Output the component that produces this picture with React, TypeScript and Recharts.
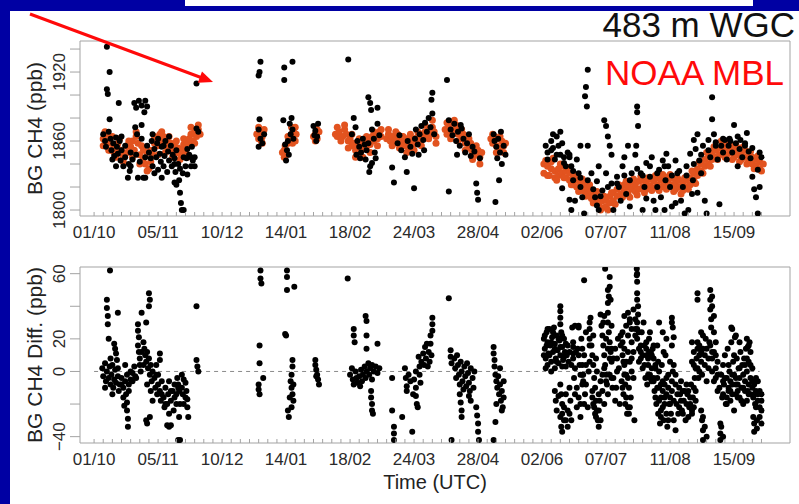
import React from 'react';
import { ScatterChart, Scatter, XAxis, YAxis, ReferenceArea, ReferenceLine } from 'recharts';

// [day since 01/10/2011, value]
type Row = [number, number];

const FONT = '"Liberation Sans", Arial, Helvetica, sans-serif';
const BLUE = '#0000a3';
const ORANGE = '#e2531f';
const RED = '#ff0a0a';
const GREY = '#a3a3a3';

// x axis: minor ticks every 5 days, labelled every 35 days
const TICK_DAYS = Array.from({ length: 74 }, (_, i) => i * 5);
const LABEL_DAYS = [0, 35, 70, 105, 140, 175, 210, 245, 280, 315, 350];
const DATE_LABELS = ['01/10', '05/11', '10/12', '14/01', '18/02', '24/03', '28/04', '02/06', '07/07', '11/08', '15/09'];
const X_DOMAIN: [number, number] = [-7.7, 380.6];

const BG_TICKS = [1800, 1820, 1840, 1860, 1880, 1900, 1920, 1940];
const BG_LABELLED = [1800, 1860, 1920];
const BG_DOMAIN: [number, number] = [1794.8, 1947];

const DIFF_TICKS = [-40, -20, 0, 20, 40, 60];
const DIFF_LABELLED = [-40, 0, 20, 60];
const DIFF_DOMAIN: [number, number] = [-43.9, 64.1];

// background CH4 at the tower (ppb)
const bgAutumn: Row[] = [
  [7, 1942], [8.5, 1920], [7, 1905], [7.5, 1901], [8.5, 1879], [13.5, 1893],
  [5, 1866], [6, 1860], [6.5, 1855], [8, 1868], [9, 1862], [9.5, 1852], [10.5, 1858], [11, 1847], [12, 1863],
  [12.5, 1855], [13, 1849], [14, 1860], [14.5, 1843], [15, 1852], [16, 1838], [17, 1846], [18.5, 1828],
  [19, 1840], [20, 1850], [21, 1844], [19.5, 1834], [22, 1893], [23, 1889], [24.5, 1895], [26, 1891],
  [27.5, 1885], [28, 1895], [29, 1890], [22.5, 1872], [26, 1874], [23.5, 1866], [24, 1828], [27, 1828],
  [28, 1828], [29, 1856], [30, 1850], [31, 1845], [31.5, 1860], [32, 1838], [33, 1853], [34, 1846],
  [34.5, 1858], [35, 1835], [36, 1849], [36.5, 1842], [37, 1855], [38, 1838], [38.5, 1847], [39, 1860],
  [40, 1833], [40.5, 1851], [41, 1843], [42, 1856], [42.5, 1838], [43, 1848], [44, 1845], [44.5, 1833],
  [45, 1852], [46, 1840], [46.5, 1826], [44, 1824], [45, 1822], [47, 1815], [47.5, 1806], [48, 1800],
  [49, 1800], [48.5, 1832], [50, 1838], [50.5, 1845], [51, 1831], [52, 1848], [53, 1838], [54, 1843],
  [56, 1910], [56, 1871], [55, 1846], [53.5, 1855], [57, 1868],
  [10, 1844], [12, 1838], [15, 1864], [17, 1856], [20, 1838], [23, 1848], [25, 1842], [26, 1862], [28, 1846],
  [32, 1866], [35, 1862], [38, 1856], [41, 1864], [44, 1840], [47, 1836], [49, 1846], [51, 1853], [53, 1846],
  [55, 1838], [33, 1832], [37, 1828],
];
const bgWinter: Row[] = [
  [91, 1929], [90.5, 1920], [90, 1917], [90.5, 1879], [90, 1870], [93, 1866], [91, 1862], [90, 1855], [92, 1858],
  [104, 1924], [108.5, 1929], [104, 1913], [103.5, 1878], [108, 1880], [107, 1875], [105, 1843], [106, 1860],
  [107.5, 1866], [108.5, 1870], [105.5, 1852], [104.5, 1857], [109, 1862], [106.5, 1848],
  [120, 1873], [121, 1869], [122, 1864], [121.5, 1860], [122.5, 1875], [120.5, 1865],
  [139, 1931], [142, 1880], [143, 1872], [141, 1866], [144, 1860], [145, 1855], [146, 1850], [143.5, 1848],
  [145.5, 1845], [147, 1862], [148, 1857], [149, 1852], [148.5, 1844], [150, 1858], [150, 1898], [151, 1893],
  [151.5, 1887], [152, 1870], [153, 1862], [153.5, 1850], [154, 1845], [155, 1889], [155, 1875], [156, 1865],
  [152, 1841], [151, 1838], [150.5, 1833],
];
const bgSpring: Row[] = [
  [163, 1837], [164, 1824], [166, 1858], [167, 1865], [168, 1852], [171, 1833], [170, 1846], [171.5, 1860],
  [175, 1819], [173, 1855], [174, 1849], [175.5, 1862], [176, 1870], [177, 1857], [178, 1866], [179, 1873],
  [180, 1861], [181, 1876], [182, 1868], [183, 1880], [184, 1872], [185, 1884], [184.5, 1896], [185, 1902],
  [186, 1866], [180.5, 1852], [177.5, 1848],
  [193, 1913], [194, 1878], [194, 1816], [195, 1870], [196, 1865], [197, 1875], [198, 1860], [199, 1868],
  [200, 1856], [201, 1871], [202, 1862], [203, 1850], [204, 1858], [205, 1866], [206, 1847], [207, 1855],
  [208, 1851], [209, 1823], [210, 1809], [209.5, 1815], [211, 1845], [198.5, 1848], [200.5, 1874],
  [218.5, 1866], [219, 1860], [220, 1855], [220.5, 1845], [221, 1862], [222, 1850], [223, 1840], [222.5, 1868],
  [224, 1856], [221.5, 1826], [219.5, 1807], [225, 1848],
];
const bgSummer: Row[] = [
  [247, 1856], [248, 1850], [250, 1860], [251, 1854], [252, 1844], [253, 1864], [254, 1856], [255, 1848],
  [256, 1858], [257, 1841], [259, 1850], [260, 1846], [255, 1868], [251, 1866], [256, 1819], [258, 1838],
  [260, 1848], [261, 1838], [262, 1826], [264, 1844], [265, 1832], [266, 1820], [267, 1811], [260, 1809],
  [261, 1800], [268, 1797], [263, 1808], [266, 1856],
  [270, 1922], [269, 1907], [268.5, 1899], [269.5, 1890], [270, 1856], [272, 1832],
  [274, 1811], [275, 1804], [276, 1800], [278, 1817], [279, 1878], [280, 1873], [281, 1864], [282, 1856],
  [283, 1848], [280, 1832], [283, 1823], [276, 1838], [275, 1825],
  [284, 1800], [287, 1820], [289, 1838], [290, 1846], [292, 1856], [294, 1832], [291, 1814], [293, 1803],
  [288, 1808], [286, 1829], [297, 1890], [297, 1885], [297.5, 1873], [296.5, 1856], [296, 1848],
  [299, 1832], [301, 1820], [302, 1841], [304, 1829], [305, 1846], [306, 1808], [308, 1820], [309, 1835],
  [311, 1843], [312, 1800], [312.5, 1826], [307, 1800], [300, 1800], [310, 1811],
  [313, 1849], [314, 1838], [315, 1820], [316, 1803], [318, 1843], [319, 1832], [321, 1808], [322, 1820],
  [324, 1838], [325, 1800], [326, 1849], [327, 1814], [327.5, 1826], [323, 1797],
  [328, 1861], [329, 1853], [330, 1866], [331, 1843], [332, 1832], [333, 1856], [334, 1808], [335, 1797],
  [336, 1861], [337, 1846], [338, 1898], [338, 1879], [339, 1866], [340, 1859], [341, 1844], [342, 1805],
  [343, 1856], [344, 1850], [345, 1861], [346, 1844], [347, 1856], [347.5, 1862], [349, 1850], [350, 1874],
  [351, 1858], [352, 1838], [353, 1853], [353.5, 1861], [354.5, 1846], [356, 1856], [357, 1867], [358, 1851],
  [359, 1845], [360, 1829], [361, 1818], [362, 1811], [363, 1835], [364, 1820], [363, 1797], [365, 1846],
  [248, 1844], [250, 1852], [253, 1848], [257, 1846], [262, 1834], [266, 1828], [270, 1826], [273, 1818],
  [277, 1812], [281, 1820], [286, 1823], [290, 1830], [293, 1826], [297, 1836], [300, 1830], [304, 1838],
  [308, 1832], [312, 1838], [316, 1830], [320, 1834], [324, 1830], [328, 1840], [332, 1848], [336, 1852],
  [340, 1856], [344, 1862], [348, 1860], [352, 1864], [356, 1858], [360, 1854], [364, 1850], [302, 1810],
  [318, 1806], [330, 1815],
];

// NOAA marine boundary layer reference (ppb)
const mblAutumnWinter: Row[] = [
  [5, 1862], [5, 1856], [7, 1860], [7, 1866], [9, 1858], [9, 1852], [11, 1856], [11, 1850], [13, 1853],
  [13, 1858], [15, 1852], [16, 1847], [18, 1850], [18, 1856], [20, 1855], [21, 1860], [22, 1852], [23, 1864],
  [24, 1858], [25, 1848], [26, 1856], [27, 1845], [28, 1840], [29, 1850], [30, 1836], [31, 1842], [32, 1848],
  [33, 1858], [34, 1862], [35, 1856], [36, 1866], [37, 1860], [38, 1864], [39, 1856], [40, 1860], [41, 1853],
  [42, 1858], [43, 1852], [44, 1856], [45, 1850], [46, 1854], [47, 1849], [48, 1852], [49, 1857], [50, 1851],
  [51, 1858], [52, 1862], [53, 1866], [54, 1860], [55, 1868], [56, 1864], [57, 1870], [58, 1866],
  [6, 1868], [8, 1852], [10, 1864], [12, 1846], [14, 1862], [16, 1842], [19, 1860], [21, 1846], [23, 1868],
  [25, 1840], [27, 1852], [29, 1834], [31, 1852], [33, 1864], [35, 1848], [37, 1868], [39, 1850], [41, 1864],
  [43, 1846], [45, 1860], [47, 1844], [49, 1862], [51, 1846], [53, 1872], [55, 1858], [57, 1874],
  [89, 1866], [90, 1862], [91, 1868], [92, 1864], [93, 1870], [91.5, 1860], [90, 1872], [92, 1858],
  [103, 1850], [104, 1852], [104.5, 1856], [105, 1848], [106, 1858], [107, 1862], [108, 1866], [109, 1870],
  [110, 1872], [110.5, 1866], [108.5, 1858], [104, 1846], [106, 1864], [108, 1872], [110, 1860],
  [120, 1864], [121, 1866], [122, 1862], [123, 1868], [121, 1860], [122, 1870],
  [132, 1866], [133, 1864], [134, 1868], [136, 1864], [137, 1870], [138, 1866], [139, 1860], [140, 1862],
  [141, 1856], [142, 1858], [143, 1852], [144, 1856], [145, 1850], [146, 1858], [147, 1853], [148, 1860],
  [149, 1855], [150, 1862], [151, 1857], [152, 1864], [153, 1860], [154, 1866], [155, 1862], [156, 1868], [157, 1864],
  [133, 1872], [135, 1860], [137, 1874], [139, 1854], [141, 1866], [143, 1846], [145, 1862], [147, 1846],
  [149, 1864], [151, 1850], [153, 1868], [155, 1856], [157, 1870],
];
const mblSpringSummer: Row[] = [
  [160, 1862], [161, 1866], [162, 1860], [163, 1864], [164, 1858], [165, 1862], [166, 1866], [167, 1860],
  [168, 1864], [169, 1858], [170, 1856], [171, 1862], [172, 1854], [173, 1860], [174, 1856], [175, 1862],
  [176, 1858], [177, 1864], [178, 1860], [179, 1866], [180, 1862], [181, 1868], [182, 1864], [183, 1870],
  [184, 1866], [185, 1872], [186, 1868], [187, 1864],
  [161, 1870], [163, 1856], [165, 1868], [167, 1854], [169, 1864], [171, 1850], [173, 1866], [175, 1852],
  [177, 1868], [179, 1856], [181, 1874], [183, 1862], [185, 1878], [187, 1858],
  [192, 1870], [193, 1866], [194, 1874], [195, 1868], [196, 1876], [197, 1870], [198, 1874], [199, 1866],
  [200, 1870], [201, 1862], [202, 1866], [203, 1858], [204, 1862], [205, 1854], [206, 1858], [207, 1850],
  [208, 1855], [209, 1848], [210, 1852], [211, 1846], [212, 1850],
  [193, 1876], [195, 1862], [197, 1878], [199, 1860], [201, 1870], [203, 1852], [205, 1862], [207, 1844],
  [209, 1856], [211, 1840],
  [217, 1862], [218, 1858], [219, 1864], [220, 1856], [221, 1862], [222, 1854], [223, 1860], [224, 1856],
  [225, 1858], [220.5, 1850], [218, 1866], [220, 1850], [222, 1864], [224, 1850],
  [246, 1840], [246, 1832], [248, 1838], [248, 1830], [250, 1836], [250, 1842], [252, 1834], [252, 1828],
  [254, 1836], [254, 1830], [256, 1832], [256, 1838], [258, 1828], [258, 1834], [260, 1826], [260, 1832],
  [262, 1822], [262, 1828], [264, 1820], [264, 1826], [266, 1818], [266, 1824], [268, 1816], [268, 1822],
  [270, 1814], [270, 1819], [272, 1810], [272, 1816], [274, 1808], [274, 1814], [276, 1804], [276, 1810],
  [278, 1802], [278, 1808], [280, 1803], [280, 1809], [282, 1806], [282, 1812], [284, 1808], [284, 1815],
  [286, 1812], [286, 1818], [288, 1814], [288, 1820], [290, 1816], [290, 1822], [292, 1814], [292, 1820],
  [294, 1818], [294, 1824], [296, 1816], [296, 1822], [298, 1818], [298, 1825], [300, 1820], [300, 1826],
  [302, 1818], [302, 1824], [304, 1821], [304, 1827], [306, 1819], [306, 1825], [308, 1822], [308, 1828],
  [310, 1820], [310, 1826], [312, 1823], [312, 1829], [314, 1820], [314, 1826], [316, 1822], [316, 1828],
  [318, 1818], [318, 1824], [320, 1820], [320, 1826], [322, 1817], [322, 1823], [324, 1820], [324, 1826],
  [326, 1822], [326, 1828], [328, 1826], [328, 1832], [330, 1830], [330, 1836], [332, 1834], [332, 1840],
  [334, 1838], [334, 1844], [336, 1840], [336, 1846], [338, 1844], [338, 1850], [340, 1846], [340, 1852],
  [342, 1848], [342, 1854], [344, 1850], [344, 1856], [346, 1848], [346, 1854], [348, 1850], [348, 1856],
  [350, 1846], [350, 1852], [352, 1848], [352, 1854], [354, 1844], [354, 1850], [356, 1846], [356, 1852],
  [358, 1842], [358, 1848], [360, 1840], [360, 1846], [362, 1838], [362, 1844], [364, 1836], [364, 1842], [366, 1840],
  [247, 1843], [249, 1830], [251, 1845], [253, 1826], [255, 1840], [257, 1828], [259, 1837], [261, 1822],
  [263, 1830], [265, 1816], [267, 1827], [269, 1812], [271, 1822], [273, 1806], [275, 1816], [277, 1800],
  [279, 1812], [281, 1800], [283, 1815], [285, 1805], [287, 1822], [289, 1811], [291, 1825], [293, 1811],
  [295, 1827], [297, 1813], [299, 1829], [301, 1815], [303, 1828], [305, 1817], [307, 1830], [309, 1817],
  [311, 1831], [313, 1818], [315, 1831], [317, 1816], [319, 1828], [321, 1814], [323, 1828], [325, 1818],
  [327, 1834], [329, 1823], [331, 1842], [333, 1832], [335, 1850], [337, 1838], [339, 1855], [341, 1844],
  [343, 1860], [345, 1846], [347, 1859], [349, 1844], [351, 1857], [353, 1842], [355, 1855], [357, 1840],
  [359, 1851], [361, 1836], [363, 1847], [365, 1834],
];

// tower background minus MBL (ppb)
const diffAutumnWinter: Row[] = [
  [8.7, 62], [7, 44], [7, 39], [7.5, 34], [7.5, 29], [13, 36], [8, 20], [11, 17], [11.5, 14], [12, 11], [12.5, 7],
  [4.5, 2], [5, -3], [6, 5], [6.5, -6], [7, 0], [8, -4], [8.5, 3], [9, -8], [9.5, -2], [10, 4], [10.5, -10],
  [11, -5], [11.5, 1], [12, -7], [13, -3], [13.5, -12], [14, -8], [15, -4], [16, -10], [17, -6], [18, -2],
  [19, -8], [20, -5], [21, -1], [22, 3], [22.5, -3], [17.5, -14], [18, -19], [18, -24], [18.5, -29], [18.5, -34],
  [16, -16], [16.5, -21], [24, 29], [24, 25], [24.5, 21], [24, 16], [24.5, 12], [25, 8], [25, 4], [25.5, 0],
  [26, 36], [28.5, 30], [30, 48], [30.5, 44], [30, 40], [27, 18], [27.5, 14], [28, 10], [28.5, 6], [29, 12],
  [29.5, 2], [30, 8], [30.5, -2], [31, 4], [31.5, -6], [32, 0], [33, -4], [33.5, -10], [34, -2], [34.5, -14],
  [35, -8], [36, -12], [36.5, -18], [37, -6], [38, -16], [38.5, -22], [39, -10], [40, -20], [40.5, -14],
  [41, -26], [42, -18], [43, -12], [43.5, -24], [44, -16], [45, -20], [46, -10], [46.5, -28], [28.5, -30],
  [29, -32], [30.5, -28], [36, 11], [36, 7], [41, -34], [40, -33], [42, -33], [46, -42], [47, -42],
  [45.5, -4], [46, -8], [46.5, -12], [50, -7], [50.5, -12], [51, -17], [51, -22], [51.5, -28], [48, -2],
  [49, -5], [48.5, -14], [49, -20], [56, 40], [56, 7], [56.5, 3], [57, 0],
  [6, -10], [9, 8], [10, -14], [13, 2], [15, -8], [17, 4], [19, -12], [20, 0], [21, -6], [23, -4],
  [26, 12], [27, 4], [29, -8], [31, -12], [32, -18], [34, 4], [35, -2], [37, -14], [39, -20], [41, -6],
  [42, -12], [44, -8], [45, -14], [47, -20], [48, -10], [50, -16],
  [91, 62], [91, 57], [91.5, 54], [90.5, 16], [90.5, 5], [92.5, -4], [90, -8], [90, -11], [90.5, -14],
  [105.5, 62], [105.5, 58], [105.5, 50], [109.5, 52], [104.5, 23], [105, 22], [108.5, 7], [108.5, 3],
  [108, -2], [107.5, -6], [108, -10], [108.5, -14], [109, -18], [108, -22], [106.5, -28], [106, -24],
  [107, -16], [109, -8],
  [121, 7], [121, 4], [121.5, 1], [122, -2], [122.5, -5], [123, -8], [121.5, -3],
  [138.7, 57], [148.5, 34], [149, 31], [142, 26], [142, 22], [142.5, 18], [149, 22], [149, 14], [155, 17],
  [140, -2], [141, 2], [141.5, -5], [142, -8], [143, 0], [143.5, -4], [144, -7], [145, -3], [145.5, -9],
  [146, 1], [146.5, -6], [147, -2], [148, 3], [148.5, -4], [149, 0], [150, 5], [150.5, -2], [151, 2],
  [152, -5], [153, 0], [154, 3], [155, -1], [156, 2], [152, 4], [151.5, -12], [151.5, -16], [152, -20],
  [152, -24], [152.5, -26],
];
const diffSpringSummer: Row[] = [
  [163, -4], [163, -24], [164, -34], [164, -38], [164, -42],
  [168.5, -28], [174, -37], [170, 2], [170.5, -4], [171, -9], [171, -12], [172, -2], [173, -6], [175, -5],
  [176, -10], [176, -15], [176.5, -20], [177, -22], [177.5, 9], [178, 3], [178, -2], [178.5, -7], [179, 6],
  [180, 11], [180.5, 4], [181, 15], [181.5, 8], [182, 17], [182.5, 3], [183, 12], [183.5, 6], [184, 22],
  [184, 17], [184.5, 10], [185, 33], [185, 29], [185, 25], [176, 0], [174.5, -14],
  [194, 45], [195, 13], [195, 9], [195.5, 5], [197, 8], [197.5, 2], [198, -4], [198.5, 10], [199, 4],
  [199.5, -2], [200, -8], [200.5, 6], [201, 0], [201.5, -6], [202, -11], [202.5, 3], [203, -3], [203.5, -9],
  [204, 5], [204.5, -1], [205, -7], [205.5, -12], [206, 2], [207, -4], [207.5, -10], [208, 0], [200, -14],
  [200.5, -19], [201, -24], [201, -28], [209, -22], [209.5, -27], [210, -32], [210, -37], [195.5, -42],
  [210.5, -42], [205, -15], [206, -18],
  [218.5, 15], [218.5, 11], [219, 7], [219, 3], [219.5, -2], [220, -6], [220.5, -10], [221, -3], [221.5, -14],
  [222, -8], [222.5, -18], [223, -12], [223.5, -22], [224, -6], [224, -16], [222, 2], [220, -20], [223, -24],
  [219.5, -31], [218.5, -42],
];
const diffSummer: Row[] = [
  [246, 20], [246.5, 14], [247, 8], [247.5, 24], [248, 18], [248.5, 11], [249, 26], [249.5, 16], [250, 6],
  [250.5, 21], [251, 12], [251.5, 27], [252, 17], [252.5, 8], [253, 22], [253.5, 13], [254, 5], [254.5, 19],
  [255, 10], [255.5, 24], [256, 15], [256.5, 7], [257, 20], [257.5, 12], [258, 3], [247, 2], [250, 0],
  [255, 40], [255, 37], [255, 33], [255, 29], [252, -12], [252.5, -18], [253, -24], [254, -15], [255, -28],
  [255.5, -34], [256, -20], [257, -30], [258, -14], [259, -24], [260, -10], [260.5, -18], [256, -37],
  [261.5, 27], [265, 27], [262, 8], [262.5, -4], [263, 2], [264, -10], [264.5, 14], [265, -16], [265.5, 4],
  [266, -20], [266.5, 20], [267, -8], [267.5, -2], [268, 10], [268.5, -14], [269, 24], [270, -22], [270.5, 0],
  [271, 6], [268, 56], [271.5, 33], [272, 16], [272.5, 10], [273, 4], [273.5, -4], [274, -10], [274.5, -18],
  [275, -24], [275.5, -30], [273, 22],
  [277, 35], [277.5, 28], [278, 22], [278.5, 16], [279, 10], [279.5, 4], [280, -2], [280.5, -8], [281, 30],
  [281.5, 24], [282, 18], [282.5, 12], [283, 6], [284, -4], [285, 14], [285.5, -10], [286, 8], [286.5, 20],
  [287, 2], [279.5, 63], [281, 50], [281.5, 46], [281, 42],
  [288, 16], [288.5, -6], [289, 10], [289.5, -14], [290, 4], [290.5, -20], [291, -2], [291.5, -26], [292, 12],
  [292.5, -10], [293, 6], [293.5, -16], [294, 0], [296.8, 63], [296.8, 59], [297, 55], [297, 48], [297, 44],
  [297.5, 40], [297.5, 35], [290, 34], [291, 28], [292, 22], [293, 30], [294, 18], [295, 12], [296, 26],
  [297, 20], [298, 14], [299, 8], [299.5, 24], [300, 2], [301, 16], [301.5, -4], [302, 10], [302.5, -8],
  [303, 4], [303.5, 20], [304, -2], [304.5, 12], [305, -6],
  [305.5, 14], [306, 8], [306.5, -12], [307, 2], [307.5, -20], [308, -4], [308.5, -26], [309, -10],
  [309.5, -32], [310, -16], [310.5, 4], [311, -22], [311.5, -30], [312, -8], [312.5, 10], [313, -14],
  [313.5, -34], [314, -2], [314.5, -20], [315, 6], [315.5, -26], [316, -12], [316.5, 0], [317, -18],
  [316, 33], [316.5, 27], [317, 21], [318, -8], [319, -14], [320, -22], [321, -18], [322, -26], [323, -12],
  [324, -20], [325, -28], [326, -16], [327, -24], [328, -10], [329, -18],
  [327, 6], [328, 12], [329, 2], [330, 18], [330.5, -4], [331, 10], [332, 24], [332.5, -2], [333, 14],
  [334, 4], [334.5, 20], [335, -6], [336, 8], [337, 16], [338, 0], [339, 12], [340, -4], [341, 6], [330, 48],
  [330, 44], [337, 50], [337, 44], [337, 38], [337.5, 32], [337.5, 27], [332, -24], [332.5, -30], [333, -36],
  [333, -42], [342.5, -32], [342.5, -38], [342.5, -42],
  [342, -10], [343, -2], [343.5, -16], [344, 4], [344.5, -8], [345, 10], [345.5, -20], [346, -4], [346.5, 14],
  [347, -12], [347.5, 0], [348, -6], [348.5, 18], [349, -14], [349.5, 6], [350, -2], [350.5, 21], [351, -8],
  [351.5, 8], [352, -16], [352.5, 2], [353, -4], [353.5, 12], [354, -10], [354.5, 4], [355, -20], [355.5, 8],
  [356, -6], [356.5, 14], [357, 0], [357.5, -12], [358, 6], [358.5, 18], [359, -4], [360, 2], [360.5, -16],
  [361, -8], [361.5, -20], [362, -12], [363, -6], [364, -22], [365, -14], [360.5, -28], [361, -32], [361, -37],
  [362.5, -30], [362.5, -35], [348.5, 27], [357, 20], [357.5, 15],
  [246.5, 22], [247.5, 16], [248, 26], [249, 10], [250, 18], [251, 24], [252, 14], [253, 6], [254, 20],
  [255, 15], [256, 22], [257, 9], [258, 17], [246, 10], [248, 4], [252, 2], [256, 3], [258.5, 10], [259, 16],
  [259.5, 6], [260, 12], [261, 4], [262, 18], [263, -14], [263.5, 12], [264, -22], [265, 10], [266, -2],
  [266, -28], [267, 14], [268, -20], [269, 4], [269, -8], [272.5, -12], [273, -20], [274, -26], [274.5, 8],
  [275, 0], [276, -14], [276, -34], [277, -6], [278, -12], [278.5, 30], [279, -20], [280, 20], [281, -14],
  [282, -2], [283, 14], [283.5, -10], [284, 8], [285, -18], [286, 0], [287.5, -20], [288, 22], [289, -10],
  [290, 14], [291, 6], [292, -4], [293, -22], [294, 8], [295, -4], [295.5, -30], [296, 32], [297, 26],
  [298, 6], [299, 16], [300, 10], [300.5, 30], [301, 4], [302, 18], [303, -2], [303.5, 12], [304, 24],
  [305, 2], [306, 16], [306, -4], [307, -16], [308, -10], [308.5, 6], [309, -18], [310, -24], [311, -6],
  [311.5, 12], [312, -16], [313, -26], [314, -10], [315, -20], [316, -6], [317, -30], [318, -36],
  [318.5, -20], [319.5, -26], [320.5, -14], [321.5, -24], [322.5, -18], [323.5, -30], [324.5, -14],
  [325.5, -22], [326.5, -8], [327.5, -16], [328.5, -4], [329.5, 8], [330, 2], [331, 16], [332, 6], [333, 22],
  [334, 10], [335, 14], [336, 2], [336.5, 18], [338, 8], [339, -6], [340, 10], [341, -2], [344, -14],
  [345, -4], [346, -16], [347, 4], [348, -12], [349, -2], [350, 10], [351, -14], [352, -8], [353, 2],
  [354, -18], [355, -2], [356, -12], [357, 8], [358, -8], [359, -14], [360, -6], [361, -14], [362, -4],
  [363, -18], [364, -12], [365, -18], [359, 4], [356, 4],
];
// late-summer hourly streaks
const diffSummerStreaks: Row[] = [
  [255, -8], [255.5, -14], [256, -26], [257, -22], [258, -30], [259, -34], [260, -26], [261, -30], [262, 15],
  [262, 11], [263, 28], [265, 28], [267, 4], [267, -2], [267.5, -6], [271, 30], [271, 26], [271, 20],
  [271, 16], [272.5, -16], [273.5, -22], [274.5, -28], [276, -24], [277, -30], [276.5, -18], [278, -2],
  [279, 2], [280, -6], [281, 14], [282, 8], [283, -4], [279, 34], [281, 36], [283, 28], [282, 58], [282, 52],
  [282.5, 44], [289, 24], [289, 18], [289.5, 6], [290, -2], [290.5, -8], [291, -16], [292, -22], [292.5, -26],
  [292, 36], [293, 32], [294, 26], [295, 38], [296, 22], [297, 30], [298, 24], [299, 12], [297, 60],
  [302, 14], [303, 8], [304, -4], [305, 10], [306, -6], [307, 4], [308, 16], [309, 0], [310, -8], [310, -28],
  [311, -12], [312, -20], [313, -4], [314, -30], [315, -16], [309, 30], [311, 24], [313, 20], [316, 30],
  [316, 16], [317, 4], [318, -2], [320, -10], [321, -6], [322, -12], [324, -8], [325, -12], [326, -20],
  [327, -26], [328, -22], [329, -12], [327, 18], [328, 4], [330, 14], [331, 0], [332, 12], [333, -28],
  [334, -34], [335, -40], [338, 46], [338, 40], [339, 34], [339, 24], [340, 18], [338, 12], [340, 2],
  [341, -12], [343, -34], [344, -40], [344, -6], [346, -20], [347, -10], [348, -18], [349, -8], [350, -24],
  [351, -4], [352, -12], [349, 26], [351, 22], [353, 18], [353, -16], [355, -10], [357, -18], [358, -14],
  [360, -10], [362, -22], [363, -14], [358, 16], [359, 12], [364, -28], [365, -32], [365, -24],
];

const toPoints = (rows: Row[]) => rows.map(([day, ppb]) => ({ day, ppb }));

const bgPoints = toPoints([...bgAutumn, ...bgWinter, ...bgSpring, ...bgSummer]);
const mblPoints = toPoints([...mblAutumnWinter, ...mblSpringSummer]);
const diffPoints = toPoints([...diffAutumnWinter, ...diffSpringSummer, ...diffSummer, ...diffSummerStreaks]);

const dot = (color: string, r: number) => (props: any) =>
  <circle cx={props.cx} cy={props.cy} r={r} fill={color} />;

const DateTick = ({ x, y, payload }: any) => {
  const i = LABEL_DAYS.indexOf(payload.value);
  return (
    <g>
      <line x1={x} x2={x} y1={y} y2={y - 4} stroke={GREY} />
      {i >= 0 && (
        <text x={x} y={y + 22} textAnchor="middle" fontSize={17} fill="#2a2a2a" fontFamily={FONT}>
          {DATE_LABELS[i]}
        </text>
      )}
    </g>
  );
};

const valueTick = (labelled: number[]) => ({ x, y, payload }: any) => {
  if (!labelled.includes(payload.value)) return <g />;
  const tx = x - 10;
  const text = payload.value < 0 ? `\u2212${Math.abs(payload.value)}` : String(payload.value);
  return (
    <text x={tx} y={y} transform={`rotate(-90 ${tx} ${y})`} textAnchor="middle" dominantBaseline="central"
      fontSize={17} fill="#2a2a2a" fontFamily={FONT}>
      {text}
    </text>
  );
};

const axisTitle = (text: string) => ({
  content: (p: any) => {
    const vb = p.viewBox || { x: 20, y: 0, height: 0 };
    const cx = vb.x + 14;
    const cy = vb.y + vb.height / 2;
    return (
      <text x={cx} y={cy} transform={`rotate(-90 ${cx} ${cy})`} textAnchor="middle" dominantBaseline="central"
        fontSize={21} fill="#222" fontFamily={FONT}>
        {text}
      </text>
    );
  },
});

export default function App() {
  return (
    <div style={{ position: 'absolute', left: 0, top: 0, width: 799, height: 504, background: BLUE, overflow: 'hidden', fontFamily: FONT }}>
      <div style={{ position: 'absolute', left: 185, top: 0, width: 568, height: 6, background: '#fff' }} />
      <div style={{ position: 'absolute', left: 10, top: 11, right: 0, bottom: 0, background: '#fff' }} />

      <div style={{ position: 'absolute', left: 0, top: 0 }}>
        <ScatterChart width={799} height={250} margin={{ top: 41, right: 9, bottom: 10, left: 20 }}>
          <XAxis type="number" dataKey="day" domain={X_DOMAIN} ticks={TICK_DAYS} interval={0} allowDataOverflow
            tick={<DateTick />} tickLine={false} axisLine={false} tickSize={0} tickMargin={0} height={24} />
          <YAxis type="number" dataKey="ppb" domain={BG_DOMAIN} ticks={BG_TICKS} interval={0} allowDataOverflow
            width={60} tickSize={10} tickMargin={0} tickLine={{ stroke: GREY }} axisLine={false}
            tick={valueTick(BG_LABELLED)} label={axisTitle('BG CH4 (ppb)')} />
          <ReferenceArea x1={X_DOMAIN[0]} x2={X_DOMAIN[1]} y1={BG_DOMAIN[0]} y2={BG_DOMAIN[1]}
            fill="none" fillOpacity={0} stroke={GREY} strokeOpacity={1} />
          <Scatter data={mblPoints} shape={dot(ORANGE, 3.5)} isAnimationActive={false} />
          <Scatter data={bgPoints} shape={dot('#000', 3)} isAnimationActive={false} />
        </ScatterChart>
      </div>

      <div style={{ position: 'absolute', left: 0, top: 250 }}>
        <ScatterChart width={799} height={254} margin={{ top: 17, right: 9, bottom: 11, left: 20 }}>
          <XAxis type="number" dataKey="day" domain={X_DOMAIN} ticks={TICK_DAYS} interval={0} allowDataOverflow
            tick={<DateTick />} tickLine={false} axisLine={false} tickSize={0} tickMargin={0} height={50}
            label={{
              content: (p: any) => {
                const vb = p.viewBox || { x: 80, y: 193, width: 710 };
                return (
                  <text x={vb.x + vb.width / 2} y={vb.y + 46} textAnchor="middle" fontSize={20} fill="#222" fontFamily={FONT}>
                    Time (UTC)
                  </text>
                );
              },
            }} />
          <YAxis type="number" dataKey="ppb" domain={DIFF_DOMAIN} ticks={DIFF_TICKS} interval={0} allowDataOverflow
            width={60} tickSize={10} tickMargin={0} tickLine={{ stroke: GREY }} axisLine={false}
            tick={valueTick(DIFF_LABELLED)} label={axisTitle('BG CH4 Diff. (ppb)')} />
          <ReferenceArea x1={X_DOMAIN[0]} x2={X_DOMAIN[1]} y1={DIFF_DOMAIN[0]} y2={DIFF_DOMAIN[1]}
            fill="none" fillOpacity={0} stroke={GREY} strokeOpacity={1} />
          <ReferenceLine segment={[{ x: 0, y: 0 }, { x: 364, y: 0 }]} stroke="#8a8a8a" strokeDasharray="4 4" />
          <Scatter data={diffPoints} shape={dot('#000', 3)} isAnimationActive={false} />
        </ScatterChart>
      </div>

      <svg width={799} height={504} style={{ position: 'absolute', left: 0, top: 0, pointerEvents: 'none' }}>
        <line x1={30} y1={14} x2={201} y2={77.5} stroke={RED} strokeWidth={3} />
        <polygon points="213,82 202,71.5 197.8,82.7" fill={RED} />
        <text x={795} y={37} textAnchor="end" fontSize={35} fill="#111" fontFamily={FONT}>483 m WGC</text>
        <text x={784} y={85} textAnchor="end" fontSize={35} fill={RED} fontFamily={FONT}>NOAA MBL</text>
      </svg>
    </div>
  );
}
